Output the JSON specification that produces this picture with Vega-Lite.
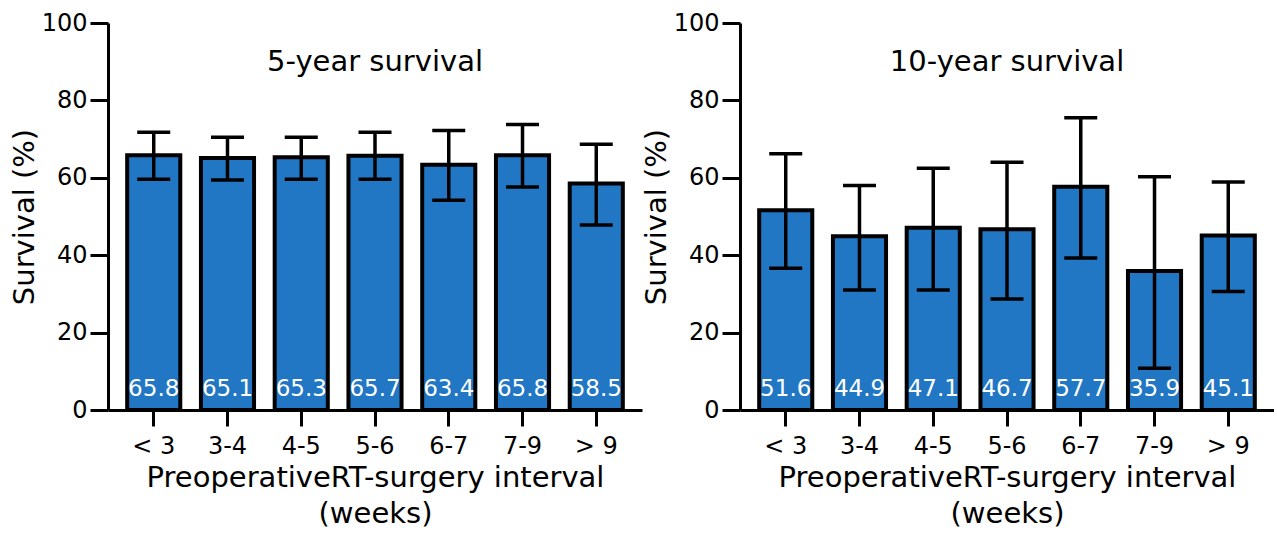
{
  "$schema": "https://vega.github.io/schema/vega-lite/v6.json",
  "background": "white",
  "padding": {"left": 10, "top": 11, "right": 0, "bottom": 0},
  "spacing": 0,
  "config": {
    "font": "DejaVu Sans",
    "view": {"stroke": null},
    "axis": {
      "grid": false,
      "domainColor": "black",
      "domainWidth": 3,
      "tickColor": "black",
      "tickWidth": 3,
      "labelColor": "black",
      "titleColor": "black",
      "labelFont": "DejaVu Sans",
      "titleFont": "DejaVu Sans",
      "titleFontWeight": "normal"
    }
  },
  "datasets": {
    "five": [
      {"interval": "< 3", "value": 65.8, "lo": 59.6, "hi": 71.8},
      {"interval": "3-4", "value": 65.1, "lo": 59.4, "hi": 70.5},
      {"interval": "4-5", "value": 65.3, "lo": 59.6, "hi": 70.5},
      {"interval": "5-6", "value": 65.7, "lo": 59.6, "hi": 71.8},
      {"interval": "6-7", "value": 63.4, "lo": 54.2, "hi": 72.2},
      {"interval": "7-9", "value": 65.8, "lo": 57.6, "hi": 73.8},
      {"interval": "> 9", "value": 58.5, "lo": 47.8, "hi": 68.7}
    ],
    "ten": [
      {"interval": "< 3", "value": 51.6, "lo": 36.6, "hi": 66.2},
      {"interval": "3-4", "value": 44.9, "lo": 31.0, "hi": 58.0},
      {"interval": "4-5", "value": 47.1, "lo": 31.0, "hi": 62.5},
      {"interval": "5-6", "value": 46.7, "lo": 28.7, "hi": 64.0},
      {"interval": "6-7", "value": 57.7, "lo": 39.3, "hi": 75.5},
      {"interval": "7-9", "value": 35.9, "lo": 10.8, "hi": 60.3},
      {"interval": "> 9", "value": 45.1, "lo": 30.6, "hi": 58.9}
    ]
  },
  "hconcat": [
    {
      "width": 534,
      "height": 387,
      "data": {"name": "five"},
      "title": {"text": "5-year survival", "fontSize": 29, "font": "DejaVu Sans", "fontWeight": "normal", "color": "black", "offset": -89, "baseline": "alphabetic", "anchor": "middle"},
      "encoding": {
        "x": {
          "field": "interval", "type": "nominal", "sort": null,
          "scale": {"paddingInner": 0.28, "paddingOuter": 0.26},
          "axis": {"title": ["PreoperativeRT-surgery interval", "(weeks)"], "labelAngle": 0, "tickSize": 16, "labelFontSize": 24, "labelPadding": 8, "titleFontSize": 29, "titlePadding": 5, "titleLineHeight": 36}
        }
      },
      "layer": [
        {
          "mark": {"type": "bar", "fill": "#2277C4", "stroke": "black", "strokeWidth": 4},
          "encoding": {"y": {"field": "value", "type": "quantitative", "title": "Survival (%)", "scale": {"domain": [0, 100]}, "axis": {"values": [0, 20, 40, 60, 80, 100], "tickSize": 18, "labelFontSize": 24, "labelPadding": 3, "titleFontSize": 29, "titlePadding": 2}}}
        },
        {
          "mark": {"type": "rule", "strokeWidth": 3.5, "color": "black"},
          "encoding": {"y": {"field": "lo", "type": "quantitative", "title": "Survival (%)"}, "y2": {"field": "hi"}}
        },
        {
          "mark": {"type": "tick", "thickness": 3.5, "size": 33, "color": "black", "opacity": 1},
          "encoding": {"y": {"field": "lo", "type": "quantitative", "title": "Survival (%)"}}
        },
        {
          "mark": {"type": "tick", "thickness": 3.5, "size": 33, "color": "black", "opacity": 1},
          "encoding": {"y": {"field": "hi", "type": "quantitative", "title": "Survival (%)"}}
        },
        {
          "mark": {"type": "text", "color": "white", "fontSize": 23, "baseline": "alphabetic", "dy": -14},
          "encoding": {"y": {"datum": 0}, "text": {"field": "value", "type": "quantitative", "format": ".1f"}}
        }
      ]
    },
    {
      "width": 534,
      "height": 387,
      "data": {"name": "ten"},
      "title": {"text": "10-year survival", "fontSize": 29, "font": "DejaVu Sans", "fontWeight": "normal", "color": "black", "offset": -89, "baseline": "alphabetic", "anchor": "middle"},
      "encoding": {
        "x": {
          "field": "interval", "type": "nominal", "sort": null,
          "scale": {"paddingInner": 0.28, "paddingOuter": 0.26},
          "axis": {"title": ["PreoperativeRT-surgery interval", "(weeks)"], "labelAngle": 0, "tickSize": 16, "labelFontSize": 24, "labelPadding": 8, "titleFontSize": 29, "titlePadding": 5, "titleLineHeight": 36}
        }
      },
      "layer": [
        {
          "mark": {"type": "bar", "fill": "#2277C4", "stroke": "black", "strokeWidth": 4},
          "encoding": {"y": {"field": "value", "type": "quantitative", "title": "Survival (%)", "scale": {"domain": [0, 100]}, "axis": {"values": [0, 20, 40, 60, 80, 100], "tickSize": 18, "labelFontSize": 24, "labelPadding": 3, "titleFontSize": 29, "titlePadding": 2}}}
        },
        {
          "mark": {"type": "rule", "strokeWidth": 3.5, "color": "black"},
          "encoding": {"y": {"field": "lo", "type": "quantitative", "title": "Survival (%)"}, "y2": {"field": "hi"}}
        },
        {
          "mark": {"type": "tick", "thickness": 3.5, "size": 33, "color": "black", "opacity": 1},
          "encoding": {"y": {"field": "lo", "type": "quantitative", "title": "Survival (%)"}}
        },
        {
          "mark": {"type": "tick", "thickness": 3.5, "size": 33, "color": "black", "opacity": 1},
          "encoding": {"y": {"field": "hi", "type": "quantitative", "title": "Survival (%)"}}
        },
        {
          "mark": {"type": "text", "color": "white", "fontSize": 23, "baseline": "alphabetic", "dy": -14},
          "encoding": {"y": {"datum": 0}, "text": {"field": "value", "type": "quantitative", "format": ".1f"}}
        }
      ]
    }
  ]
}
